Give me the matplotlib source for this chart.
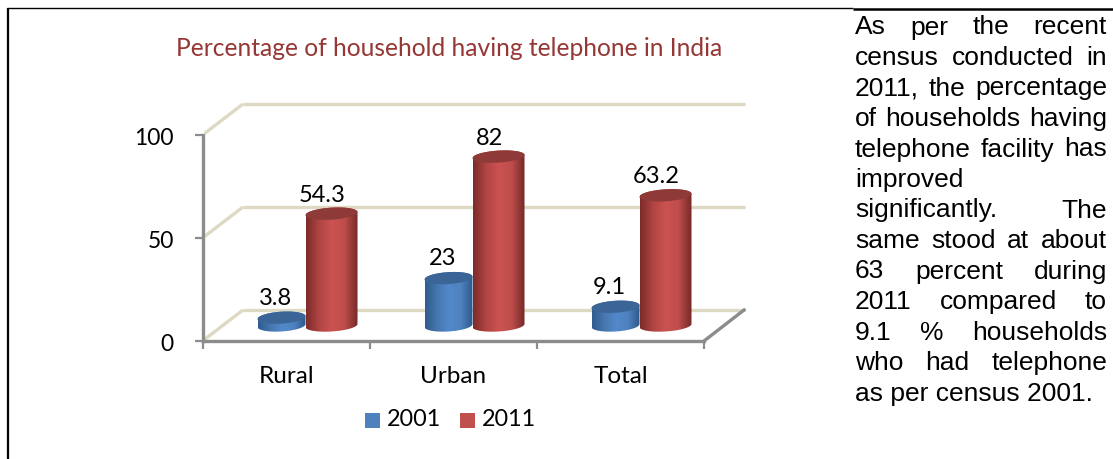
import numpy as np
import matplotlib
matplotlib.use('Agg')
import matplotlib.pyplot as plt
from matplotlib.colors import LinearSegmentedColormap
from matplotlib.patches import Polygon, Rectangle
from matplotlib.transforms import ScaledTranslation

categories = ['Rural', 'Urban', 'Total']
values_2001 = [3.8, 23, 9.1]
values_2011 = [54.3, 82, 63.2]
y_ticks = [0, 50, 100]
title = 'Percentage of household having telephone in India'

paragraph = [
    ('As per the recent', True),
    ('census conducted in', True),
    ('2011, the percentage', True),
    ('of households having', True),
    ('telephone facility has', True),
    ('improved', False),
    ('significantly. The', True),
    ('same stood at about', True),
    ('63 percent during', True),
    ('2011 compared to', True),
    ('9.1 % households', True),
    ('who had telephone', True),
    ('as per census 2001.', False),
]

W, H = 1113, 459
plt.rcParams['font.family'] = ['Lato', 'DejaVu Sans']

fig = plt.figure(figsize=(W / 100, H / 100), dpi=100)
fig.patch.set_facecolor('white')

# front plane of the chart box, 3 categories wide
ax = fig.add_axes([203 / W, (H - 341) / H, 501 / W, 206 / H])
ax.patch.set_visible(False)

px_x = 501 / 3    # pixels per category
px_y = 206 / 100  # pixels per percent
back_x = 40 / px_x
back_y = 31 / px_y
mid_x = back_x / 2
mid_y = back_y / 2

wall = '#DDD9C3'
axis_grey = '#8C8C8C'

# back wall grid and the slanted side wall lines
for t in y_ticks:
    ax.plot([0.01, back_x], [t + 0.8, t + back_y], color=wall, lw=2.4, clip_on=False, zorder=1,
            solid_capstyle='butt')
    ax.plot([back_x, 3 + back_x + 0.005], [t + back_y, t + back_y], color=wall, lw=2.4,
            clip_on=False, zorder=1, solid_capstyle='butt')
ax.plot([3, 3 + back_x], [0, back_y], color=axis_grey, lw=2.4, clip_on=False, zorder=2)


def ellipse(cx, cy, width, height=12, tilt=0.06, n=80):
    # ellipse sized in pixels, returned in data units
    a = np.linspace(0, 2 * np.pi, n)
    dx = width / 2 * np.cos(a)
    dy = height / 2 * np.sin(a) + tilt * dx
    return np.column_stack([cx + dx / px_x, cy + dy / px_y])


def cylinder(x, value, width, cmap, top_color):
    left = x - width / 2 / px_x
    right = x + width / 2 / px_x
    base = mid_y
    top = mid_y + value
    bottom_edge = ellipse(x, base, width)
    top_edge = ellipse(x, top, width)
    # lower half of the base ellipse runs left to right, then up and back across the top
    outline = np.vstack([bottom_edge[40:], top_edge[:40]])
    body = Polygon(outline, closed=True, transform=ax.transData, facecolor='none', edgecolor='none')
    ax.add_patch(body)
    grad = np.linspace(0, 1, 64).reshape(1, -1)
    img = ax.imshow(grad, extent=[left, right, base - 4, top + 4], cmap=cmap, aspect='auto',
                    zorder=cap_z[0], clip_on=True)
    img.set_clip_path(body)
    cap = Polygon(top_edge, closed=True, facecolor=top_color, edgecolor='none', zorder=cap_z[0] + 0.1,
                  clip_on=False)
    ax.add_patch(cap)
    cap_z[0] += 1


blue_cmap = LinearSegmentedColormap.from_list('b', ['#2F5D90', '#4676AE', '#5289CB', '#4F82BF', '#2E5A8C'])
red_cmap = LinearSegmentedColormap.from_list('r', ['#7C2C2A', '#B04543', '#CB5351', '#BE4D4B', '#762A28'])

cap_z = [5]
centres = np.arange(len(categories)) + 0.5 + mid_x
shift = 25 / px_x
for i in range(len(categories)):
    cylinder(centres[i] - shift, values_2001[i], 48, blue_cmap, '#3B6597')
    cylinder(centres[i] + shift, values_2011[i], 52, red_cmap, '#8E3A38')
    ax.text(centres[i] - shift - 6 / px_x, values_2001[i] + mid_y + 19.5 / px_y, str(values_2001[i]),
            ha='center', va='center', fontsize=17, color='black', zorder=30, clip_on=False)
    ax.text(centres[i] + shift - 9 / px_x, values_2011[i] + mid_y + 18.5 / px_y, str(values_2011[i]),
            ha='center', va='center', fontsize=17, color='black', zorder=30, clip_on=False)

ax.set_xlim(0, 3)
ax.set_ylim(0, 100)

for side in ['top', 'right']:
    ax.spines[side].set_visible(False)
for side in ['left', 'bottom']:
    ax.spines[side].set_color(axis_grey)
    ax.spines[side].set_linewidth(2.4)
    ax.spines[side].set_zorder(3)

ax.set_yticks(y_ticks)
ax.set_yticklabels([str(t) for t in y_ticks], fontsize=16.5, color='black')
ax.set_xticks(range(4))
ax.set_xticklabels([])
ax.set_xticks(np.arange(3) + 0.5, minor=True)
ax.set_xticklabels(categories, minor=True, fontsize=17.5, color='black')
ax.tick_params(axis='y', length=6, width=1.6, color=axis_grey, pad=15)
ax.tick_params(axis='x', which='major', length=6, width=1.6, color=axis_grey)
ax.tick_params(axis='x', which='minor', length=0, pad=18)

# nudge the value axis labels down a little
nudge = ScaledTranslation(0, -1.5 / 100, fig.dpi_scale_trans)
for lab in ax.get_yticklabels():
    lab.set_transform(lab.get_transform() + nudge)

# page layer in pixel coordinates: title, legend, paragraph and box rules
page = fig.add_axes([0, 0, 1, 1], zorder=10)
page.set_xlim(0, W)
page.set_ylim(H, 0)
page.axis('off')

page.text(449, 49, title, ha='center', va='center', fontsize=17.7, color='#953735')

page.add_patch(Rectangle((365, 413), 15, 15, facecolor='#4F81BD', edgecolor='none'))
page.add_patch(Rectangle((460, 413), 15, 15, facecolor='#C0504D', edgecolor='none'))
page.text(387, 420, '2001', ha='left', va='center', fontsize=16.8, color='black')
page.text(482, 420, '2011', ha='left', va='center', fontsize=16.8, color='black')

page.plot([7, 853], [8, 8], color='black', lw=1.0, solid_capstyle='butt')
page.plot([853, W], [8.5, 8.5], color='black', lw=1.8, solid_capstyle='butt')
page.plot([7.5, 7.5], [8, H], color='black', lw=1.6, solid_capstyle='butt')

renderer = fig.canvas.get_renderer()
left_x, right_x = 855, 1107
body_size = 19
for k, (line, justify) in enumerate(paragraph):
    y = 27.5 + 30.5 * k
    if not justify:
        page.text(left_x, y, line, ha='left', va='center', fontsize=body_size, family='Liberation Sans')
        continue
    words = line.split()
    items = [page.text(0, y, w, ha='left', va='center', fontsize=body_size, family='Liberation Sans') for w in words]
    widths = [t.get_window_extent(renderer).width for t in items]
    gap = (right_x - left_x - sum(widths)) / (len(words) - 1)
    x = left_x
    for t, w in zip(items, widths):
        t.set_x(x)
        x += w + gap

fig.savefig('out.png', dpi=100)
